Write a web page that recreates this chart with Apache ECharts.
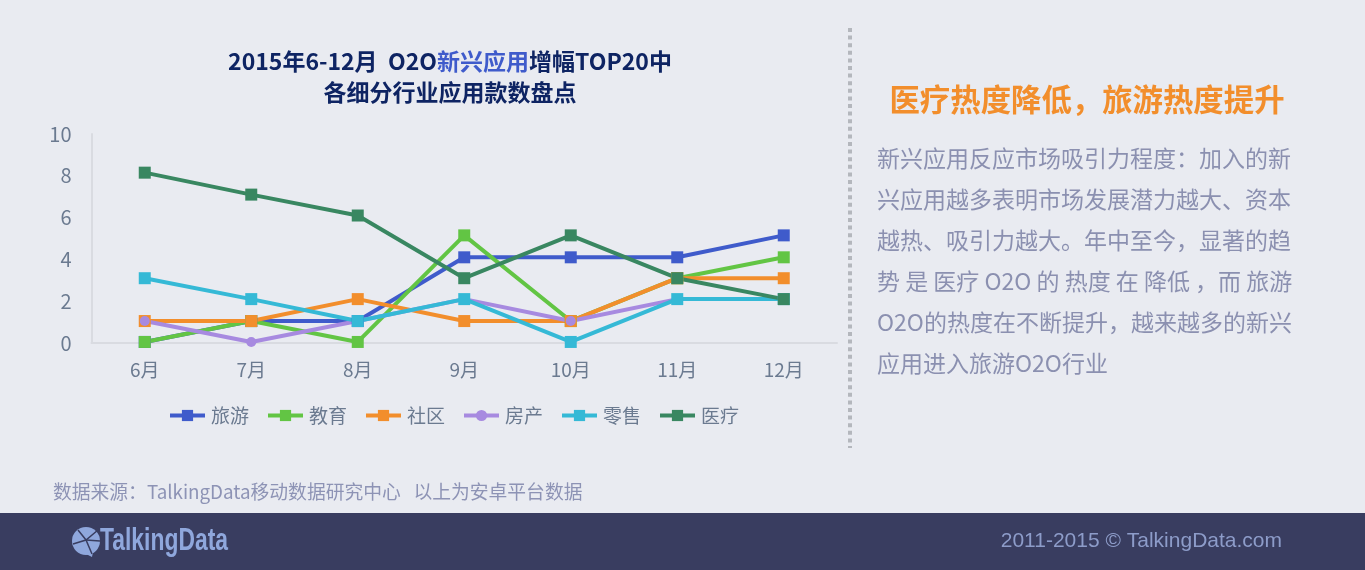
<!DOCTYPE html>
<html>
<head>
<meta charset="utf-8">
<style>
html, body { margin: 0; padding: 0; background: #e9ebf1; }
#main { width: 1365px; height: 570px; }
</style>
<script src="https://cdn.jsdelivr.net/npm/echarts@6/dist/echarts.min.js"></script>
</head>
<body>
<div id="main"></div>
<script>
var months = ['6月', '7月', '8月', '9月', '10月', '11月', '12月'];
var lvyou = [0.05, 1.05, 1.05, 4.1, 4.1, 4.1, 5.15];
var jiaoyu = [0.05, 1.05, 0.05, 5.15, 1.05, 3.1, 4.1];
var shequ = [1.05, 1.05, 2.1, 1.05, 1.05, 3.1, 3.1];
var fangchan = [1.05, 0.05, 1.05, 2.1, 1.05, 2.1, 2.1];
var lingshou = [3.1, 2.1, 1.05, 2.1, 0.05, 2.1, 2.1];
var yiliao = [8.15, 7.1, 6.1, 3.1, 5.15, 3.1, 2.1];

var bodyLines = [
    '新兴应用反应市场吸引力程度：加入的新',
    '兴应用越多表明市场发展潜力越大、资本',
    '越热、吸引力越大。年中至今，显著的趋',
    '势 是 医疗 O2O 的 热度 在 降低 ，而 旅游',
    'O2O的热度在不断提升，越来越多的新兴',
    '应用进入旅游O2O行业'
];

var cjk = '"Noto Sans CJK SC", sans-serif';
var chart = echarts.init(document.getElementById('main'));

function makeLine(name, data, color, symbol, size) {
    return {
        name: name,
        type: 'line',
        data: data,
        symbol: symbol || 'rect',
        symbolSize: size || 12,
        lineStyle: { color: color, width: 4 },
        itemStyle: { color: color }
    };
}

var graphics = [
    // footer band
    { type: 'rect', shape: { x: 0, y: 513, width: 1365, height: 57 }, style: { fill: '#393d60' } },
    // dotted divider
    { type: 'line', shape: { x1: 850, y1: 28, x2: 850, y2: 448 },
      style: { stroke: '#b4b7bd', lineWidth: 4, lineDash: [4, 3.6] } },
    { type: 'text', x: 1087, y: 99, style: { text: '医疗热度降低，旅游热度提升', fill: '#f28e2c',
        font: 'bold 30.4px ' + cjk, textAlign: 'center', textVerticalAlign: 'middle' } },
    { type: 'text', x: 53, y: 491.5, style: { text: '数据来源：TalkingData移动数据研究中心   以上为安卓平台数据', fill: '#8d93b5',
        font: '18.8px ' + cjk, textVerticalAlign: 'middle' } },
    { type: 'text', x: 1282, y: 541, style: { text: '2011-2015 © TalkingData.com', fill: '#8d9cc9',
        font: '21px "Liberation Sans", sans-serif', textAlign: 'right', textVerticalAlign: 'middle' } },
    // logo
    { type: 'circle', shape: { cx: 86, cy: 541, r: 14 }, style: { fill: '#8fa7dc' } },
    { type: 'polygon', shape: { points: [[82, 552], [93, 552], [92, 557]] }, style: { fill: '#8fa7dc' } },
    { type: 'polyline', shape: { points: [[73, 544], [86, 540], [98, 530]] }, style: { stroke: '#393d60', lineWidth: 1.5, fill: null } },
    { type: 'polyline', shape: { points: [[78, 530], [86, 540], [92, 554]] }, style: { stroke: '#393d60', lineWidth: 1.5, fill: null } },
    { type: 'line', shape: { x1: 86, y1: 540, x2: 100, y2: 541 }, style: { stroke: '#393d60', lineWidth: 1.5 } },
    { type: 'text', x: 100, y: 541, scaleX: 0.715, style: { text: 'TalkingData', fill: '#8fa7dc',
        font: 'bold 32px "Liberation Sans Narrow", "Liberation Sans", sans-serif', textVerticalAlign: 'middle' } }
];

for (var i = 0; i < bodyLines.length; i++) {
    graphics.push({ type: 'text', x: 877, y: 158.5 + i * 41, style: { text: bodyLines[i], fill: '#8b90b0',
        font: '23px ' + cjk, textVerticalAlign: 'middle' } });
}

var option = {
    backgroundColor: '#e9ebf1',
    animation: false,
    textStyle: { fontFamily: cjk },
    title: {
        left: 445,
        top: 41,
        textAlign: 'center',
        text: '{a|2015年6-12月  O2O}{b|新兴应用}{a|增幅TOP20中}\n{a|各细分行业应用款数盘点}',
        textStyle: {
            rich: {
                a: { color: '#0e2463', fontSize: 23, fontWeight: 'bold', lineHeight: 31, fontFamily: cjk },
                b: { color: '#3f5bcb', fontSize: 23, fontWeight: 'bold', lineHeight: 31, fontFamily: cjk }
            }
        }
    },
    legend: {
        left: 163,
        top: 401,
        itemWidth: 35,
        itemHeight: 14,
        itemGap: 17,
        lineStyle: { width: 4 },
        textStyle: { color: '#6b7a90', fontSize: 19, padding: [0, 0, 0, 1] },
        data: ['旅游', '教育', '社区', '房产', '零售', '医疗']
    },
    grid: { left: 91.5, right: 528, top: 134, bottom: 227 },
    xAxis: {
        type: 'category',
        data: months,
        axisTick: { show: false },
        axisLine: { lineStyle: { color: '#d9dbe1', width: 2 } },
        axisLabel: { color: '#6b7a90', fontSize: 19, margin: 17 }
    },
    yAxis: {
        type: 'value',
        min: 0,
        max: 10,
        interval: 2,
        splitLine: { show: false },
        axisTick: { show: false },
        axisLine: { show: true, lineStyle: { color: '#d9dbe1', width: 2 } },
        axisLabel: { color: '#6b7a90', fontSize: 20, margin: 20 }
    },
    series: [
        makeLine('旅游', lvyou, '#3f5bcb'),
        makeLine('教育', jiaoyu, '#62c544'),
        makeLine('社区', shequ, '#f28e2c'),
        makeLine('房产', fangchan, '#a78ae0', 'circle', 10),
        makeLine('零售', lingshou, '#35b9d6'),
        makeLine('医疗', yiliao, '#398761')
    ],
    graphic: graphics
};

if (option && typeof option === "object") {
    chart.setOption(option, true);
}
</script>
</body>
</html>
